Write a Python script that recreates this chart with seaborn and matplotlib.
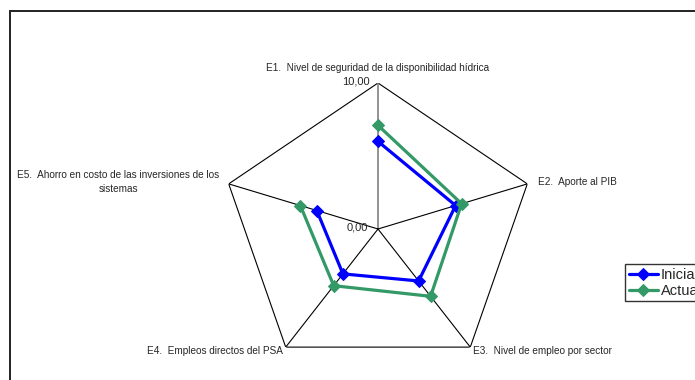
import numpy as np
import pandas as pd
import matplotlib
matplotlib.use("Agg")
import matplotlib.pyplot as plt
import matplotlib.patches as patches
import seaborn as sns

# Values (scale 0-10)
categorias = ["E1", "E2", "E3", "E4", "E5"]
inicial = [6.0, 5.2, 4.4, 3.8, 4.1]
actual = [7.1, 5.6, 5.7, 4.8, 5.2]
series = ["Inicial", "Actual"]
colores = {"Inicial": "#0000FF", "Actual": "#339966"}

sns.set_style("white")
plt.rcParams["font.family"] = ["Liberation Sans", "DejaVu Sans"]

W, H = 695, 380
fig = plt.figure(figsize=(W / 100, H / 100), dpi=100)

# centre of the radar at (378, 229) px, radius ~157 px wide, ~146 px tall
cx, cy, rx, ry = 378, 229, 157, 146
ax = fig.add_axes([(cx - rx) / W, 1 - (cy + ry) / H, 2 * rx / W, 2 * ry / H],
                  projection="polar")
ax.set_aspect("auto")
ax.set_theta_offset(np.pi / 2)
ax.set_theta_direction(-1)

n = len(categorias)
angulos = [2 * np.pi * i / n for i in range(n)]

# outer pentagon and spokes
ang_c = angulos + angulos[:1]
ax.plot(ang_c, [10] * (n + 1), color="black", lw=0.8, zorder=1)
for i, a in enumerate(angulos):
    ax.plot([a, a], [0, 10], color="#808080" if i == 0 else "black",
            lw=1.2 if i == 0 else 0.8, zorder=1)

df = pd.DataFrame({
    "angulo": ang_c * 2,
    "valor": inicial + inicial[:1] + actual + actual[:1],
    "serie": ["Inicial"] * (n + 1) + ["Actual"] * (n + 1),
})
for s in series:
    sns.lineplot(data=df[df["serie"] == s], x="angulo", y="valor", sort=False,
                 color=colores[s], lw=2.3, marker="D", markersize=6,
                 markeredgecolor=colores[s], ax=ax, label=s, zorder=3)

ax.set_ylim(0, 10)
ax.grid(False)
ax.spines["polar"].set_visible(False)
ax.set_xticks([])
ax.set_yticks([])
ax.set_xlabel("")
ax.set_ylabel("")
handles, labels = ax.get_legend_handles_labels()
ax.get_legend().remove()

def px(x, y):
    return x / W, 1 - y / H

fs = 7.2
fig.text(*px(378, 68), "E1.  Nivel de seguridad de la disponibilidad hídrica",
         ha="center", va="center", fontsize=fs)
fig.text(*px(538, 182), "E2.  Aporte al PIB", ha="left", va="center", fontsize=fs)
fig.text(*px(473, 351), "E3.  Nivel de empleo por sector", ha="left", va="center", fontsize=fs)
fig.text(*px(283, 351), "E4.  Empleos directos del PSA", ha="right", va="center", fontsize=fs)
fig.text(*px(118, 182), "E5.  Ahorro en costo de las inversiones de los\nsistemas",
         ha="center", va="center", fontsize=fs, linespacing=1.5)
fig.text(*px(370, 82), "10,00", ha="right", va="center", fontsize=8)
fig.text(*px(368, 228), "0,00", ha="right", va="center", fontsize=8)

fig.legend(handles, labels, loc="upper left", bbox_to_anchor=px(625, 264),
           frameon=True, fancybox=False, edgecolor="black", fontsize=10.5,
           handlelength=2.0, handletextpad=0.2, borderpad=0.25,
           labelspacing=0.15, borderaxespad=0)

fig.patches.append(patches.Rectangle(px(9.5, 420), 1.0, (420 - 11) / H,
                                     transform=fig.transFigure, fill=False,
                                     edgecolor="#222222", lw=1.4))

fig.savefig("out.png", dpi=100)
